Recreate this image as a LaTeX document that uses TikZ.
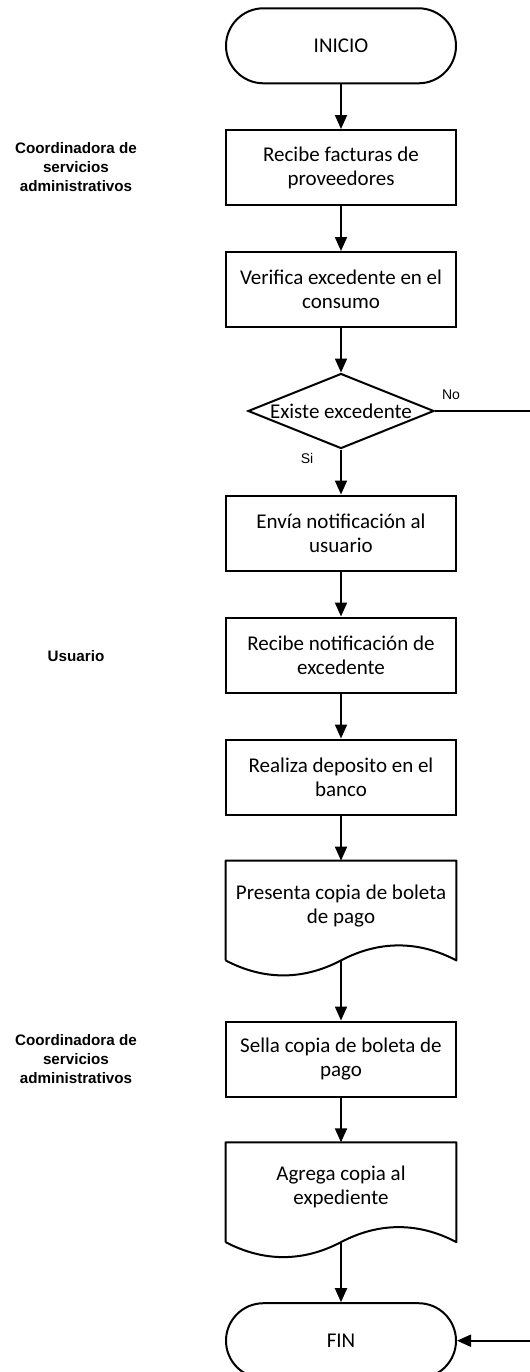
\documentclass[tikz,border=0pt]{standalone}
\usepackage{fontspec}
\setmainfont{Carlito}
\newfontfamily\arialfont{Liberation Sans}
\usetikzlibrary{arrows.meta,shapes.misc,shapes.geometric}

\begin{document}
\begin{tikzpicture}[x=0.5pt,y=-0.5pt,
  flow/.style={draw=drawColor,line width=1pt,-{Triangle[length=7pt,width=6pt]}},
  stepbox/.style={draw=drawColor,line width=1pt,fill=fillColor,minimum width=115pt,minimum height=37.5pt,inner sep=0pt,align=center,font=\fontsize{10.5}{12}\selectfont},
  endpoint/.style={stepbox,rounded rectangle},
  decision/.style={draw=drawColor,line width=1pt,fill=fillColor,diamond,minimum width=93pt,minimum height=37.5pt,inner sep=0pt},
  docbox/.style={minimum width=115pt,minimum height=49.5pt,inner sep=0pt},
  doctext/.style={align=center,font=\fontsize{10.5}{12}\selectfont,yshift=2.5pt},
  role/.style={align=center,font=\arialfont\bfseries\fontsize{7.6}{9.5}\selectfont},
  answer/.style={font=\arialfont\fontsize{7}{8.4}\selectfont}]
\definecolor{fillColor}{RGB}{255,255,255}
\definecolor{drawColor}{RGB}{0,0,0}
\path[use as bounding box,fill=fillColor] (0,0) rectangle (530,1372);

% roles
\node[role] (rolecoord) at (76,167) {Coordinadora de\\servicios\\administrativos};
\node[role] (roleuser) at (76,656) {Usuario};
\node[role] (rolecoordb) at (76,1059) {Coordinadora de\\servicios\\administrativos};

% steps
\node[endpoint] (inicio) at (341,45.8) {INICIO};
\node[stepbox] (recibe) at (341,167.5) {Recibe facturas de\\proveedores};
\node[stepbox] (verifica) at (341,289.5) {Verifica excedente en el\\consumo};
\node[decision,label={[font=\fontsize{10.5}{12}\selectfont]center:Existe excedente}] (dec) at (341,411) {};
\node[stepbox] (envia) at (341,533) {Envía notificación al\\usuario};
\node[stepbox] (recnot) at (341,655) {Recibe notificación de\\excedente};
\node[stepbox] (realiza) at (341,777) {Realiza deposito en el\\banco};
\node[docbox,label={[doctext]center:Presenta copia de boleta\\de pago}] (pres) at (341,910.5) {};
\node[stepbox] (sella) at (341,1059) {Sella copia de boleta de\\pago};
\node[docbox,label={[doctext]center:Agrega copia al\\expediente}] (agrega) at (341,1192.2) {};
\node[endpoint] (fin) at (341,1340.7) {FIN};

% document outlines
\foreach \d in {pres,agrega}
  \draw[draw=drawColor,line width=1pt,line join=round] (\d.south west) -- (\d.north west) -- (\d.north east) -- (\d.south east)
    .. controls +(-38,-20) and +(38,-20) .. (\d.south)
    .. controls +(-38,20) and +(38,20) .. (\d.south west);

% answers
\node[answer] (lblno) at (451,395) {No};
\node[answer] (lblsi) at (307,458) {Si};

% connectors
\coordinate (noturn) at (531,411);
\coordinate (noback) at (531,1340.7);
\draw[flow] (inicio.south) -- (recibe.north);
\draw[flow] (recibe.south) -- (verifica.north);
\draw[flow] (verifica.south) -- (dec.north);
\draw[flow] (dec.south) -- (envia.north);
\draw[flow] (envia.south) -- (recnot.north);
\draw[flow] (recnot.south) -- (realiza.north);
\draw[flow] (realiza.south) -- (pres.north);
\draw[flow] (pres.south) -- (sella.north);
\draw[flow] (sella.south) -- (agrega.north);
\draw[flow] (agrega.south) -- (fin.north);
\draw[flow] (dec.east) -- (noturn) -- (noback) -- (fin.east);
\end{tikzpicture}
\end{document}
